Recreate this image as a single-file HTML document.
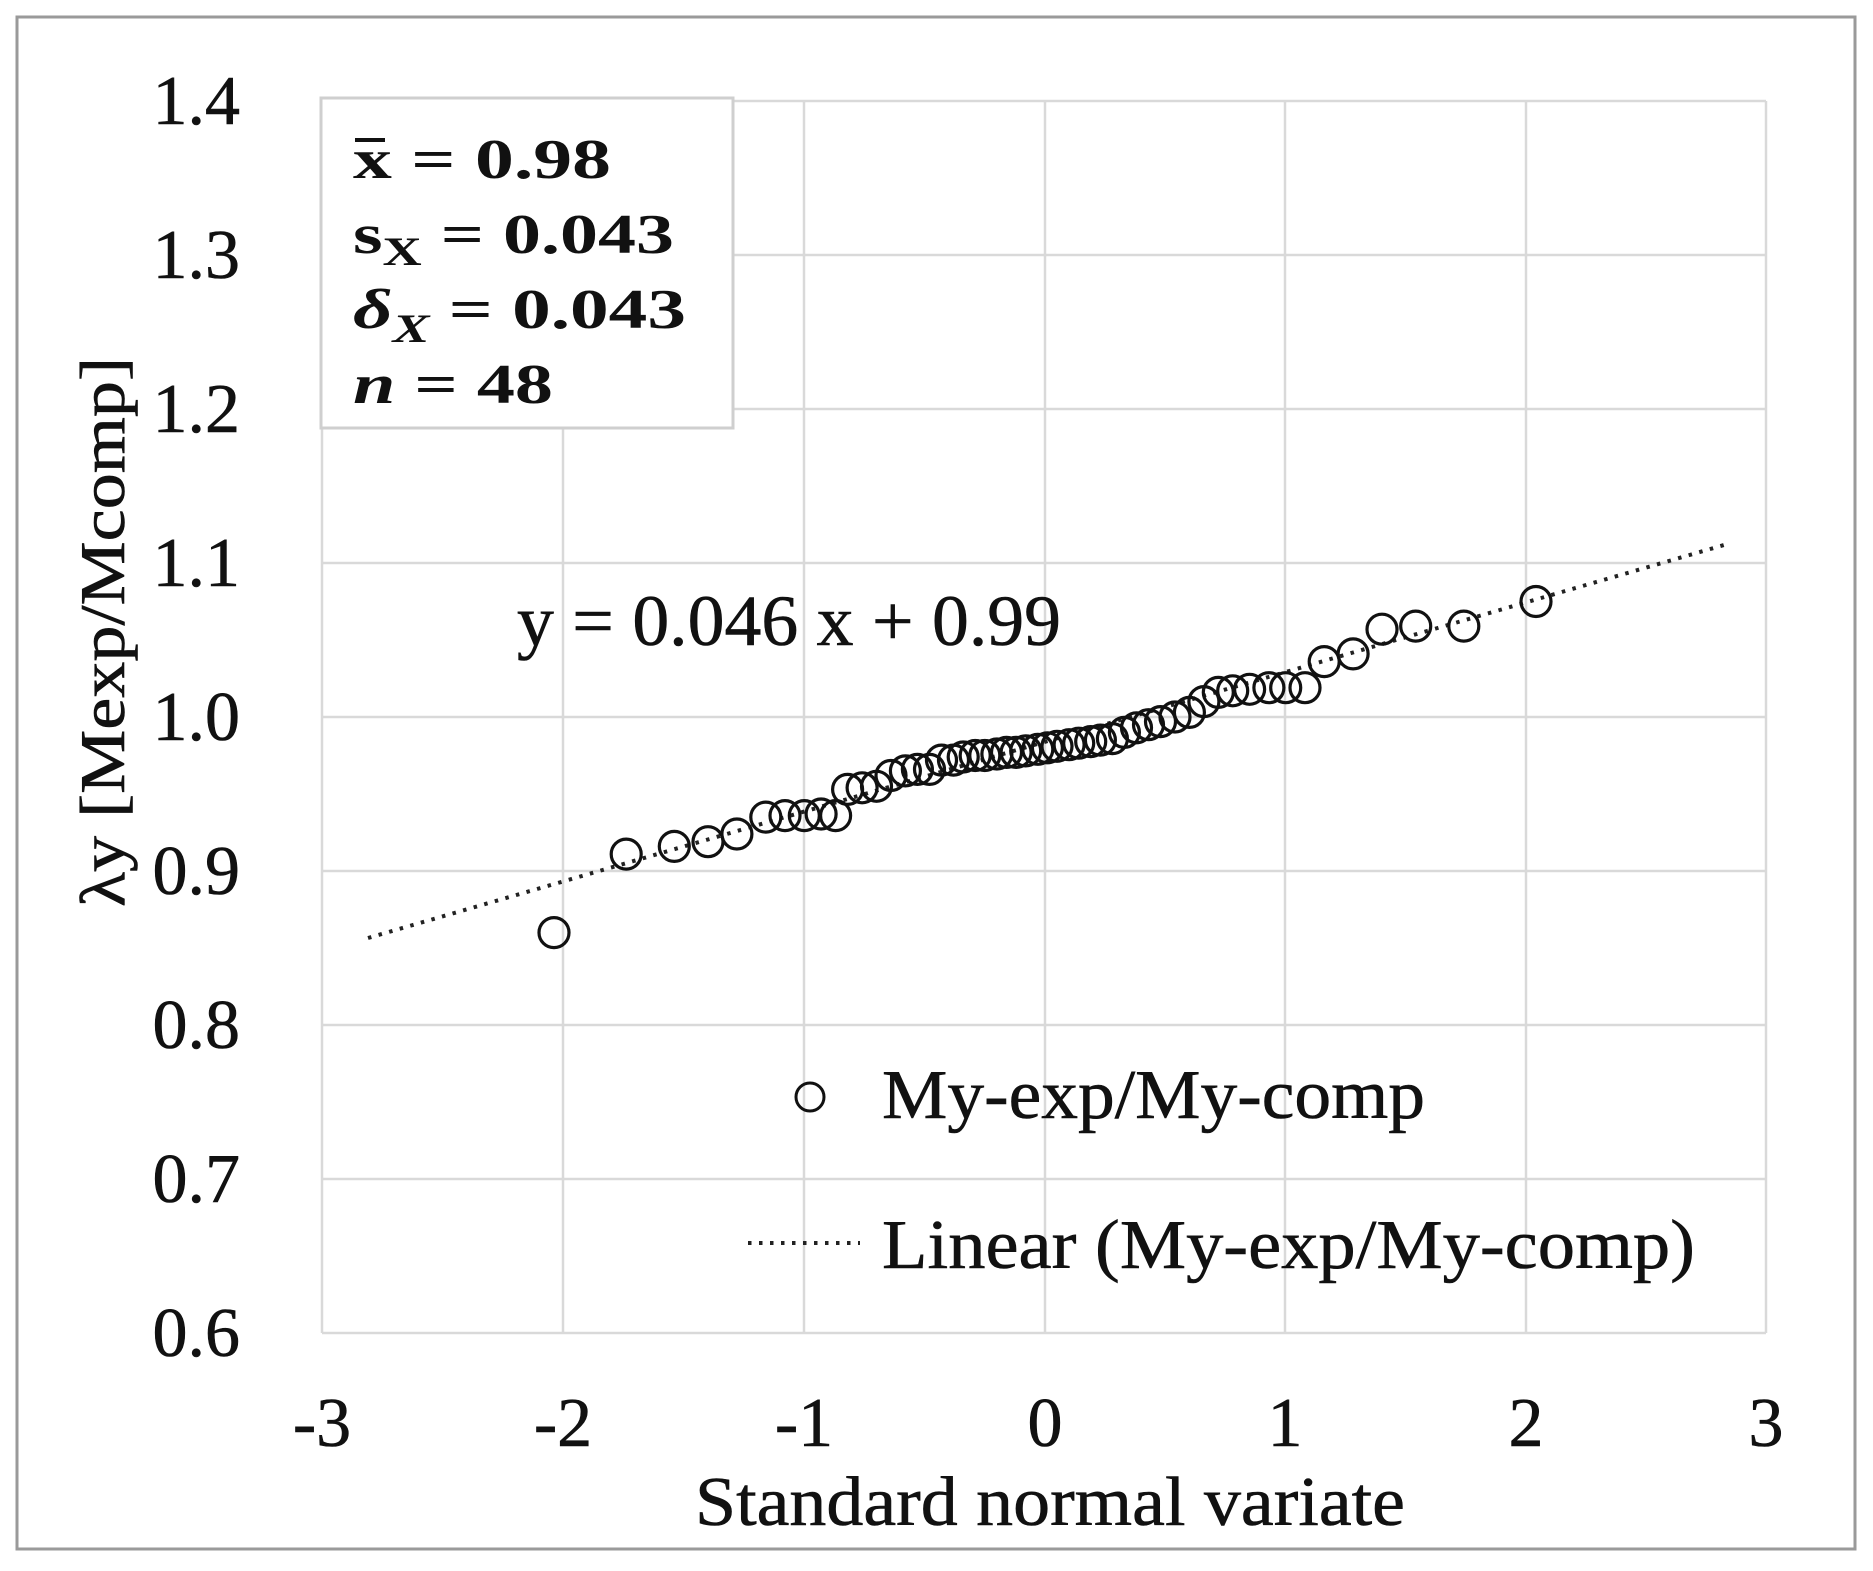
<!DOCTYPE html>
<html><head><meta charset="utf-8"><style>
html,body{margin:0;padding:0;background:#fff;}
svg{display:block;}
text{font-family:"Liberation Serif",serif;fill:#111;}
</style></head><body>
<svg id="s" width="1873" height="1571" viewBox="0 0 1873 1571" xmlns="http://www.w3.org/2000/svg">
<rect x="0" y="0" width="1873" height="1571" fill="#fff"/>
<rect x="17" y="17" width="1838" height="1532" fill="none" stroke="#9a9a9a" stroke-width="3"/>
<g stroke="#d9d9d9" stroke-width="2.5" fill="none">
<line x1="322" y1="101" x2="1766" y2="101"/>
<line x1="322" y1="255" x2="1766" y2="255"/>
<line x1="322" y1="409" x2="1766" y2="409"/>
<line x1="322" y1="563" x2="1766" y2="563"/>
<line x1="322" y1="717" x2="1766" y2="717"/>
<line x1="322" y1="871" x2="1766" y2="871"/>
<line x1="322" y1="1025" x2="1766" y2="1025"/>
<line x1="322" y1="1179" x2="1766" y2="1179"/>
<line x1="322" y1="1333" x2="1766" y2="1333"/>
<line x1="322" y1="101" x2="322" y2="1333"/>
<line x1="563" y1="101" x2="563" y2="1333"/>
<line x1="804" y1="101" x2="804" y2="1333"/>
<line x1="1045" y1="101" x2="1045" y2="1333"/>
<line x1="1285" y1="101" x2="1285" y2="1333"/>
<line x1="1526" y1="101" x2="1526" y2="1333"/>
<line x1="1766" y1="101" x2="1766" y2="1333"/>
</g>
<g font-size="70" text-anchor="end" stroke="#111" stroke-width="0.6">
<text x="240" y="124">1.4</text>
<text x="240" y="278">1.3</text>
<text x="240" y="432">1.2</text>
<text x="240" y="586">1.1</text>
<text x="240" y="740">1.0</text>
<text x="240" y="894">0.9</text>
<text x="240" y="1048">0.8</text>
<text x="240" y="1202">0.7</text>
<text x="240" y="1356">0.6</text>
</g>
<g font-size="70" text-anchor="middle" stroke="#111" stroke-width="0.6">
<text x="322" y="1446">-3</text>
<text x="563" y="1446">-2</text>
<text x="804" y="1446">-1</text>
<text x="1045" y="1446">0</text>
<text x="1285" y="1446">1</text>
<text x="1526" y="1446">2</text>
<text x="1766" y="1446">3</text>
</g>
<text x="695" y="1525" font-size="70" textLength="710" lengthAdjust="spacingAndGlyphs" stroke="#111" stroke-width="0.6">Standard normal variate</text>
<text transform="translate(124,907) rotate(-90)" font-size="64" textLength="550" lengthAdjust="spacingAndGlyphs" stroke="#111" stroke-width="0.6">λy [Mexp/Mcomp]</text>
<line x1="368" y1="938" x2="1724" y2="545" stroke="#222" stroke-width="4" stroke-dasharray="3.5,7.5"/>
<g id="pts" fill="none" stroke="#111" stroke-width="3.2"></g>
<text x="517" y="645" font-size="72" textLength="544" lengthAdjust="spacingAndGlyphs" stroke="#111" stroke-width="0.6">y = 0.046 x + 0.99</text>
<rect x="321" y="98" width="412" height="330" fill="#fff" stroke="#cfcfcf" stroke-width="3"/>
<g font-weight="bold" font-size="56">
<text x="353" y="178" textLength="258" lengthAdjust="spacingAndGlyphs">x = 0.98</text>
<line x1="355" y1="140" x2="385" y2="140" stroke="#111" stroke-width="4"/>
<text x="353" y="253" textLength="321" lengthAdjust="spacingAndGlyphs">s<tspan font-size="40" dy="12">X</tspan><tspan dy="-12"> = 0.043</tspan></text>
<text x="353" y="328" textLength="333" lengthAdjust="spacingAndGlyphs" font-style="italic">δ<tspan font-size="40" dy="14">X</tspan><tspan dy="-14" font-style="normal"> = 0.043</tspan></text>
<text x="353" y="403" textLength="200" lengthAdjust="spacingAndGlyphs"><tspan font-style="italic">n</tspan> = 48</text>
</g>
<circle cx="810" cy="1097" r="14" fill="none" stroke="#111" stroke-width="3"/>
<text x="882" y="1118" font-size="70" textLength="543" lengthAdjust="spacingAndGlyphs" stroke="#111" stroke-width="0.6">My-exp/My-comp</text>
<line x1="748" y1="1243" x2="860" y2="1243" stroke="#222" stroke-width="4" stroke-dasharray="3.5,7.5"/>
<text x="882" y="1268" font-size="70" textLength="813" lengthAdjust="spacingAndGlyphs" stroke="#111" stroke-width="0.6">Linear (My-exp/My-comp)</text>
</svg>
<script>
var d=[[-2.04,0.86],[-1.74,0.911],[-1.54,0.916],[-1.4,0.919],[-1.28,0.924],[-1.16,0.935],[-1.08,0.936],[-1.0,0.936],[-0.93,0.937],[-0.87,0.936],[-0.82,0.953],[-0.76,0.954],[-0.70,0.955],[-0.64,0.962],[-0.58,0.965],[-0.53,0.966],[-0.48,0.966],[-0.43,0.972],[-0.38,0.972],[-0.34,0.974],[-0.29,0.975],[-0.25,0.975],[-0.2,0.976],[-0.16,0.977],[-0.12,0.977],[-0.08,0.978],[-0.03,0.979],[0.01,0.98],[0.05,0.981],[0.1,0.982],[0.14,0.983],[0.19,0.984],[0.23,0.985],[0.28,0.986],[0.33,0.99],[0.38,0.993],[0.43,0.995],[0.48,0.997],[0.54,1.0],[0.6,1.003],[0.66,1.01],[0.72,1.016],[0.78,1.017],[0.85,1.018],[0.93,1.019],[1.0,1.019],[1.08,1.019],[1.16,1.036],[1.28,1.041],[1.4,1.057],[1.54,1.059],[1.74,1.059],[2.04,1.075]];
var g=document.getElementById('pts'),h='';
d.forEach(function(p){var x=1045+p[0]*240.7,y=717-(p[1]-1)*1540;h+='<circle cx="'+x.toFixed(1)+'" cy="'+y.toFixed(1)+'" r="15"/>';});
g.innerHTML=h;
</script>
</body></html>
